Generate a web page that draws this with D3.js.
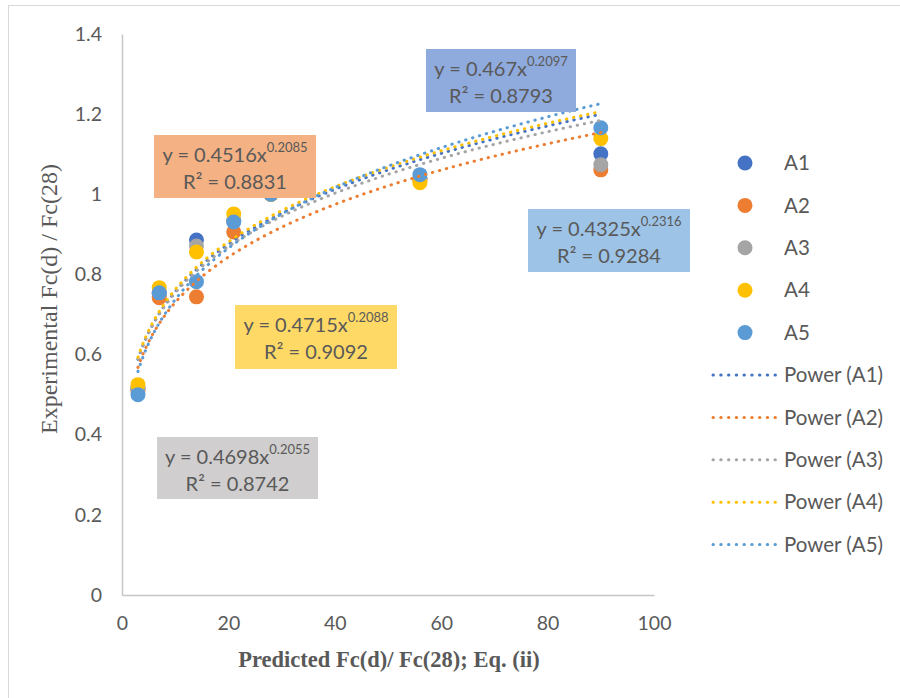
<!DOCTYPE html>
<html>
<head>
<meta charset="utf-8">
<script src="https://cdn.jsdelivr.net/npm/d3@7"></script>
<style>
  html, body { margin: 0; padding: 0; background: #ffffff; }
  svg { display: block; }
  text { font-family: Lato, "Open Sans", sans-serif; fill: #595959; }
</style>
</head>
<body>
<svg id="chart" width="900" height="698"></svg>
<script>
// Test ages in days (x) and strength ratios for each mix
const ages = [3, 7, 14, 21, 28, 56, 90];
const seriesNames = ["A1", "A2", "A3", "A4", "A5"];
const valuesA1 = [0.515, 0.752, 0.886, 0.935, 1.0, 1.040, 1.101];
const valuesA2 = [0.510, 0.742, 0.744, 0.906, 1.0, 1.036, 1.061];
const valuesA3 = [0.515, 0.755, 0.871, 0.932, 1.0, 1.040, 1.074];
const valuesA4 = [0.525, 0.767, 0.856, 0.951, 1.0, 1.029, 1.139];
const valuesA5 = [0.500, 0.754, 0.782, 0.931, 1.0, 1.049, 1.166];

// Power trendline coefficients: y = a * x^b
const fitA = [0.467, 0.4516, 0.4698, 0.4715, 0.4325];
const fitB = [0.2097, 0.2085, 0.2055, 0.2088, 0.2316];
const fitR2 = ["0.8793", "0.8831", "0.8742", "0.9092", "0.9284"];

const xTicks = [0, 20, 40, 60, 80, 100];
const yTicks = [0, 0.2, 0.4, 0.6, 0.8, 1, 1.2, 1.4];

const colors = ["#4472c4", "#ed7d31", "#a5a5a5", "#ffc000", "#5b9bd5"];
const boxFills = ["#8faadc", "#f4b183", "#d0cece", "#ffd966", "#9dc3e6"];
// Equation label boxes (pixel layout)
const boxLayout = [
  { x: 426, y: 49, w: 150, h: 63 },
  { x: 154, y: 135, w: 162, h: 63 },
  { x: 157, y: 437, w: 161, h: 62 },
  { x: 235, y: 305, w: 162, h: 64 },
  { x: 528, y: 209, w: 162, h: 63 }
];

const allValues = [valuesA1, valuesA2, valuesA3, valuesA4, valuesA5];

const svg = d3.select("#chart");

// chart frame
svg.append("rect")
  .attr("x", 8.5).attr("y", 5.5).attr("width", 1000).attr("height", 1000)
  .attr("fill", "none").attr("stroke", "#d9d9d9").attr("stroke-width", 1);

const x = d3.scaleLinear().domain([0, 100]).range([122, 654]);
const y = d3.scaleLinear().domain([0, 1.4]).range([595, 34]);

const axisColor = "#c6c6c6";
const tickFont = 19.5;

// Y axis
const yAxis = svg.append("g").attr("transform", `translate(${x(0)},0)`)
  .call(d3.axisLeft(y).tickValues(yTicks).tickSize(0).tickPadding(20).tickFormat(d3.format("~g")));
yAxis.select(".domain").attr("stroke", axisColor).attr("stroke-width", 1.5);
yAxis.selectAll("text").attr("font-size", tickFont).attr("font-family", "Lato").attr("fill", "#595959");

// X axis
const xAxis = svg.append("g").attr("transform", `translate(0,${y(0)})`)
  .call(d3.axisBottom(x).tickValues(xTicks).tickSize(0).tickPadding(21).tickFormat(d3.format("~g")));
xAxis.select(".domain").attr("stroke", axisColor).attr("stroke-width", 1.5);
xAxis.selectAll("text").attr("font-size", tickFont).attr("font-family", "Lato").attr("fill", "#595959");

// Axis titles
svg.append("text")
  .attr("transform", "translate(57,299) rotate(-90)")
  .attr("text-anchor", "middle")
  .style("font-family", "'Liberation Serif', 'Times New Roman', serif")
  .attr("font-size", 24)
  .text("Experimental Fc(d) / Fc(28)");

svg.append("text")
  .attr("x", 389).attr("y", 667)
  .attr("text-anchor", "middle")
  .style("font-family", "'Liberation Serif', 'Times New Roman', serif")
  .attr("font-weight", "bold")
  .attr("font-size", 22.5)
  .text("Predicted Fc(d)/ Fc(28); Eq. (ii)");

// Markers
const markerR = 7.5;
seriesNames.forEach((name, i) => {
  svg.append("g").selectAll("circle")
    .data(ages.map((a, j) => [a, allValues[i][j]]))
    .join("circle")
    .attr("cx", d => x(d[0]))
    .attr("cy", d => y(d[1]))
    .attr("r", markerR)
    .attr("fill", colors[i]);
});

// Power trendlines
const dotStyle = sel => sel
  .attr("fill", "none")
  .attr("stroke-width", 3)
  .attr("stroke-linecap", "round")
  .attr("stroke-dasharray", "0.4 6.8");

const line = d3.line().x(d => x(d[0])).y(d => y(d[1]));
const xs = d3.range(ages[0], ages[ages.length - 1] + 0.001, 0.25);
seriesNames.forEach((name, i) => {
  const pts = xs.map(v => [v, fitA[i] * Math.pow(v, fitB[i])]);
  svg.append("path").attr("d", line(pts)).attr("stroke", colors[i]).call(dotStyle);
});

// Equation labels
const eqFont = 20;
seriesNames.forEach((name, i) => {
  const b = boxLayout[i];
  const g = svg.append("g");
  g.append("rect").attr("x", b.x).attr("y", b.y).attr("width", b.w).attr("height", b.h)
    .attr("fill", boxFills[i]);
  const cx = b.x + b.w / 2;
  const t1 = g.append("text").attr("x", cx).attr("y", b.y + 27)
    .attr("text-anchor", "middle").attr("font-size", eqFont);
  t1.append("tspan").text(`y = ${fitA[i]}x`);
  t1.append("tspan").attr("dy", -10).attr("font-size", 13).text(fitB[i]);
  g.append("text").attr("x", cx).attr("y", b.y + 54)
    .attr("text-anchor", "middle").attr("font-size", eqFont)
    .text(`R² = ${fitR2[i]}`);
});

// Legend
const legendY0 = 163, legendStep = 42.4, legendFont = 20.5;
seriesNames.forEach((name, i) => {
  const ly = legendY0 + i * legendStep;
  svg.append("circle").attr("cx", 745).attr("cy", ly).attr("r", markerR).attr("fill", colors[i]);
  svg.append("text").attr("x", 784).attr("y", ly).attr("dy", "0.35em")
    .attr("font-size", legendFont).text(name);
});
seriesNames.forEach((name, i) => {
  const ly = legendY0 + (i + 5) * legendStep;
  svg.append("path").attr("d", `M713,${ly}H776`).attr("stroke", colors[i]).call(dotStyle)
    .attr("stroke-dasharray", "0.4 7.35");
  svg.append("text").attr("x", 784).attr("y", ly).attr("dy", "0.35em")
    .attr("font-size", legendFont).text(`Power (${name})`);
});
</script>
</body>
</html>
